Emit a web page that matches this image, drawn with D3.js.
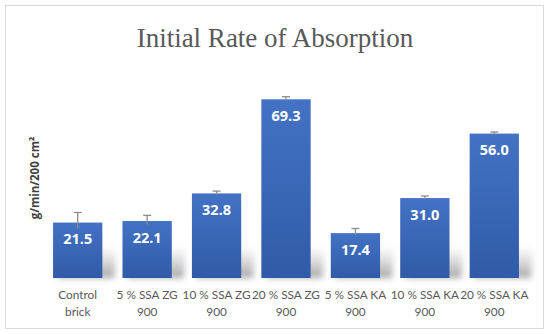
<!DOCTYPE html>
<html>
<head>
  <title>Initial Rate of Absorption</title>
  <script src="https://d3js.org/d3.v7.min.js"></script>
  <style>
    body {
      margin: 0;
      background: #fff;
    }
    .cat-label {
      font-family: Lato, "Open Sans", sans-serif;
      font-size: 11.8px;
      fill: #595959;
    }
    .val-label {
      font-family: "Open Sans", Lato, sans-serif;
      font-weight: bold;
      font-size: 14.5px;
      fill: #fff;
    }
  </style>
</head>
<body>
  <div id="chart"></div>

  <script>
    const categories = [
      ['Control', 'brick'],
      ['5 % SSA ZG', '900'],
      ['10 % SSA ZG', '900'],
      ['20 % SSA ZG', '900'],
      ['5 % SSA KA', '900'],
      ['10 % SSA KA', '900'],
      ['20 % SSA KA', '900']
    ];
    const values = [21.5, 22.1, 32.8, 69.3, 17.4, 31.0, 56.0];
    const errors = [3.9, 2.2, 0.9, 1.0, 1.8, 0.8, 0.6];

    const width = 550, height = 334;
    const svg = d3.select('#chart').append('svg')
      .attr('width', width)
      .attr('height', height);

    const defs = svg.append('defs');

    const barGrad = defs.append('linearGradient')
      .attr('id', 'barGrad')
      .attr('x1', 0).attr('y1', 0).attr('x2', 0).attr('y2', 1);
    barGrad.append('stop').attr('offset', '0%').attr('stop-color', '#4472c4');
    barGrad.append('stop').attr('offset', '100%').attr('stop-color', '#2f5ba8');

    const shadowGrad = defs.append('linearGradient')
      .attr('id', 'shadowGrad')
      .attr('x1', 0).attr('y1', 0).attr('x2', 0).attr('y2', 1);
    shadowGrad.append('stop').attr('offset', '0%').attr('stop-color', '#bbb').attr('stop-opacity', 0);
    shadowGrad.append('stop').attr('offset', '100%').attr('stop-color', '#999').attr('stop-opacity', 0.9);

    defs.append('filter')
      .attr('id', 'blur')
      .attr('x', '-50%').attr('y', '-50%').attr('width', '200%').attr('height', '200%')
      .append('feGaussianBlur')
      .attr('stdDeviation', 3);

    // outer frame
    svg.append('rect')
      .attr('x', 5.5).attr('y', 5.5)
      .attr('width', 538).attr('height', 323)
      .attr('fill', '#fff')
      .attr('stroke', '#d9d9d9');

    // title
    svg.append('text')
      .attr('x', 275)
      .attr('y', 47)
      .attr('text-anchor', 'middle')
      .attr('font-family', '"Liberation Serif", serif')
      .attr('font-size', 27)
      .attr('fill', '#595959')
      .text('Initial Rate of Absorption');

    // y-axis title
    svg.append('text')
      .attr('transform', 'translate(39,178) rotate(-90)')
      .attr('text-anchor', 'middle')
      .attr('font-family', '"Open Sans", Lato, sans-serif')
      .attr('font-weight', 'bold')
      .attr('font-size', 11.5)
      .attr('fill', '#404040')
      .text('g/min/200 cm²');

    const x = d3.scaleBand()
      .domain(d3.range(categories.length))
      .range([43, 529])
      .paddingInner(0.29)
      .paddingOuter(0.145);

    const y = d3.scaleLinear()
      .domain([0, 80])
      .range([278, 71.7]);

    const bw = x.bandwidth();

    // soft floor shadows behind the bars
    svg.append('g')
      .attr('filter', 'url(#blur)')
      .selectAll('path')
      .data(values)
      .join('path')
      .attr('d', (d, i) => {
        const x0 = x(i), b = y(0), top = b - Math.min(32, y(0) - y(d));
        return `M${x0 + 4},${b} L${x0 + 16},${top} L${x0 + bw + 14},${top} L${x0 + bw + 12},${b} Z`;
      })
      .attr('fill', 'url(#shadowGrad)');

    // bars
    svg.append('g')
      .selectAll('rect')
      .data(values)
      .join('rect')
      .attr('x', (d, i) => x(i))
      .attr('y', d => y(d))
      .attr('width', bw)
      .attr('height', d => y(0) - y(d))
      .attr('fill', 'url(#barGrad)');

    // error bars
    const eb = svg.append('g')
      .attr('stroke', '#8c8c8c')
      .attr('stroke-width', 1.3)
      .selectAll('g')
      .data(values)
      .join('g');
    eb.append('line')
      .attr('x1', (d, i) => x(i) + bw / 2)
      .attr('x2', (d, i) => x(i) + bw / 2)
      .attr('y1', (d, i) => y(d - errors[i] * 0.6))
      .attr('y2', (d, i) => y(d + errors[i]));
    eb.append('line')
      .attr('x1', (d, i) => x(i) + bw / 2 - 4)
      .attr('x2', (d, i) => x(i) + bw / 2 + 4)
      .attr('y1', (d, i) => y(d + errors[i]))
      .attr('y2', (d, i) => y(d + errors[i]));

    // value labels
    svg.append('g')
      .selectAll('text')
      .data(values)
      .join('text')
      .attr('class', 'val-label')
      .attr('x', (d, i) => x(i) + bw / 2)
      .attr('y', d => y(d) + 21.5)
      .attr('text-anchor', 'middle')
      .text(d => d.toFixed(1));

    // category labels
    const cl = svg.append('g')
      .selectAll('text')
      .data(categories)
      .join('text')
      .attr('class', 'cat-label')
      .attr('text-anchor', 'middle')
      .attr('x', (d, i) => x(i) + bw / 2)
      .attr('y', 299);
    cl.append('tspan')
      .attr('x', (d, i) => x(i) + bw / 2)
      .text(d => d[0]);
    cl.append('tspan')
      .attr('x', (d, i) => x(i) + bw / 2)
      .attr('dy', 16.5)
      .text(d => d[1]);
  </script>
</body>
</html>
